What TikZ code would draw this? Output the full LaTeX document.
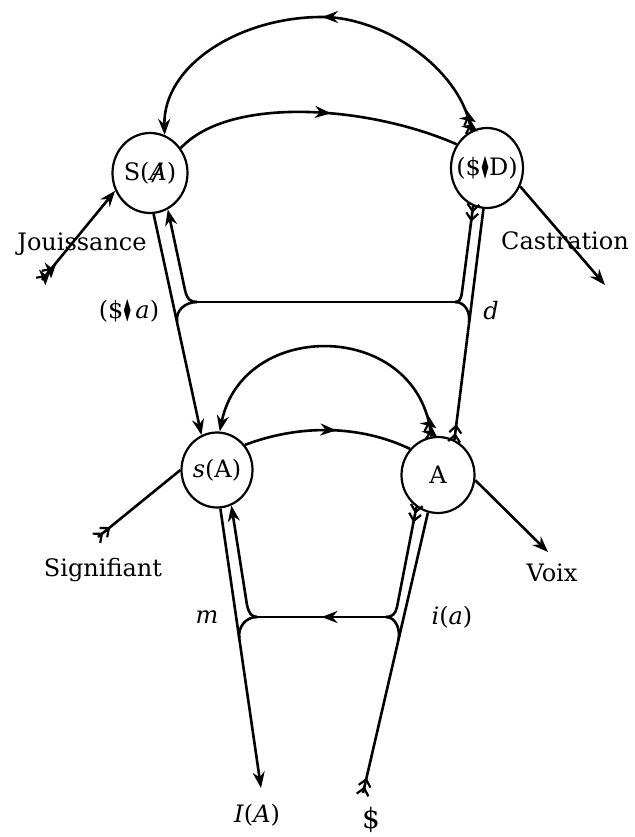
\documentclass[tikz,border=0pt]{standalone}
\usepackage{amssymb}
\usepackage{graphicx}
\usepackage{fontspec}
\setmainfont{DejaVu Serif}
\usetikzlibrary{arrows.meta,decorations.markings,shapes.geometric}

\newcommand\labelfnt{\fontsize{24}{28}\selectfont}
\newcommand\nodefnt{\fontsize{24}{28}\selectfont}
\newcommand\poincon{\scalebox{0.5}[1.1]{$\blacklozenge$}}
\newcommand\barA{\ooalign{\textit{A}\cr\hidewidth\textit{/}\hidewidth\cr}}
\newcommand\mytailmark{\draw[line width=2.2pt] (-6pt,6pt) -- (1pt,0pt) -- (-6pt,-6pt);}

\tikzset{
  nodecirc/.style={draw, ellipse, line width=2.2pt, inner sep=0pt, font=\nodefnt},
  ln/.style={line width=2.6pt},
  endarrow/.style={-{Stealth[length=16pt,width=12pt]}},
  midarrow/.style={postaction={decorate,decoration={markings,
      mark=at position #1 with {\arrow{Stealth[length=16pt,width=12pt]}}}}},
  feathered/.style={postaction={decorate,decoration={markings,
      mark=at position 4pt with {\mytailmark},
      mark=at position 13pt with {\mytailmark}}}},
  lbl/.style={font=\labelfnt, inner sep=0pt}
}

\begin{document}
\begin{tikzpicture}[x=1pt,y=-1pt]
\fill[white] (0,0) rectangle (634,837);
\useasboundingbox (0,0) rectangle (634,837);

% nodes
\node[nodecirc, minimum width=75pt, minimum height=80pt] (SA) at (150,173) {\makebox[0pt]{S(\barA)}};
\node[nodecirc, minimum width=72pt, minimum height=80pt] (SD) at (487,168) {\makebox[0pt]{(\$\poincon D)}};
\node[nodecirc, minimum width=71pt, minimum height=75pt] (sA) at (217,470) {\makebox[0pt]{\textit{s}(A)}};
\node[nodecirc, minimum width=73pt, minimum height=76pt] (A) at (438,475) {\makebox[0pt]{A}};

% free ends and junctions
\coordinate (jTL) at (197,302);
\coordinate (jTR) at (455,302);
\coordinate (jBL) at (257,617);
\coordinate (jBR) at (386,617);
\coordinate (J0) at (42,280);
\coordinate (Cend) at (605,285);
\coordinate (Send) at (98,537);
\coordinate (Vend) at (548,552);
\coordinate (IAend) at (261,788);
\coordinate (S0) at (363,793);

% top arc
\draw[ln, endarrow, feathered, midarrow=0.48] (SD.113) .. controls (462,70) and (385,17) .. (322,17)
  .. controls (240,17) and (163,65) .. (SA.69);
% upper chain
\draw[ln, midarrow=0.55] (SA.39) .. controls (230,95) and (370,106) .. (SD.142);
% lower arc
\draw[ln, endarrow, feathered] (A.100) .. controls (420,320) and (243,317) .. (sA.86);
% lower chain
\draw[ln, midarrow=0.55] (sA.42) .. controls (300,424) and (360,425) .. (A.137);

% left upper pair
\draw[ln, endarrow] (SA.275) -- (sA.114);
\draw[ln, endarrow] (jTL) .. controls (191,302) and (187.2,300) .. (185,290) -- (SA.296);
\draw[ln] (jTL) .. controls (185,302) and (175,311) .. (177.2,322);
\draw[ln] (jTL) -- (jTR);
% right upper pair
\draw[ln, feathered] (A.65) -- (SD.265);
\draw[ln, feathered] (SD.250) -- (462,292) .. controls (460.9,300) and (459,302) .. (jTR);
\draw[ln] (jTR) .. controls (465,302) and (470.3,312) .. (469,322);

% left lower pair
\draw[ln, endarrow] (sA.275) -- (IAend);
\draw[ln, endarrow] (jBL) .. controls (251,617) and (248.5,612) .. (247,605) -- (sA.292);
\draw[ln] (jBL) .. controls (245,617) and (237.8,628) .. (239.3,638);
\draw[ln, midarrow=0.5] (jBR) -- (jBL);
% right lower pair
\draw[ln, feathered] (S0) -- (A.255);
\draw[ln, feathered] (A.236) -- (397,607) .. controls (395.5,614) and (392,617) .. (jBR);
\draw[ln] (jBR) .. controls (396,617) and (400.7,630) .. (398.4,640);

% outer vectors
\draw[ln, endarrow, feathered] (J0) -- (SA.207);
\draw[ln, endarrow] (SD.331) -- (Cend);
\draw[ln, feathered] (Send) -- (sA.180);
\draw[ln, endarrow] (A.352) -- (Vend);

% labels
\node[lbl] (tJ) at (82,244) {Jouissance};
\node[lbl] (tC) at (565,241) {Castration};
\node[lbl] (tFa) at (129,311) {(\$\poincon\,\textit{a})};
\node[lbl] (td) at (491,311) {\textit{d}};
\node[lbl] (tS) at (103,570) {Signifiant};
\node[lbl] (tV) at (552,573) {Voix};
\node[lbl] (tm) at (207,617) {\textit{m}};
\node[lbl] (tia) at (452,617) {\textit{i}(\textit{a})};
\node[lbl] (tIA) at (257,815) {\textit{I}(\textit{A})};
\node[lbl, font=\fontsize{28}{32}\selectfont] (tS0) at (371,820) {\$};
\end{tikzpicture}
\end{document}
